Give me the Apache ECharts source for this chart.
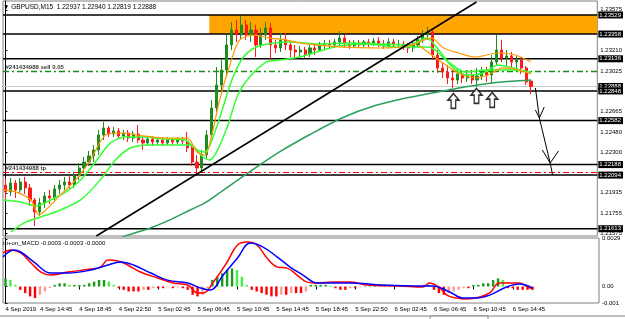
<!DOCTYPE html>
<html><head><meta charset="utf-8">
<script src="https://cdn.jsdelivr.net/npm/echarts@6/dist/echarts.min.js"></script>
<style>html,body{margin:0;padding:0;background:#fff}#c{width:625px;height:319px}</style>
</head><body><div id="c"></div><script>
// ---- data (30-min candles) : [open, close, low, high]
const candles = [
[1.22005,1.21943,1.21871,1.22068],[1.21943,1.22023,1.21907,1.22068],[1.22023,1.21961,1.21889,1.22050],
[1.21961,1.22032,1.21934,1.22068],[1.22032,1.21979,1.21925,1.22077],[1.21979,1.21871,1.21817,1.22014],
[1.21871,1.21763,1.21638,1.21889],[1.21763,1.21844,1.21728,1.21889],[1.21844,1.21907,1.21799,1.21943],
[1.21907,1.21889,1.21835,1.21961],[1.21889,1.21970,1.21862,1.22005],[1.21970,1.22005,1.21925,1.22050],
[1.22005,1.22032,1.21961,1.22077],[1.22032,1.22005,1.21970,1.22086],[1.22005,1.22086,1.21979,1.22122],
[1.22086,1.22158,1.22050,1.22202],[1.22158,1.22211,1.22122,1.22256],[1.22211,1.22265,1.22175,1.22310],
[1.22265,1.22319,1.22211,1.22364],[1.22319,1.22453,1.22274,1.22498],[1.22453,1.22516,1.22408,1.22570],
[1.22516,1.22462,1.22435,1.22534],[1.22462,1.22489,1.22435,1.22525],[1.22489,1.22444,1.22417,1.22516],
[1.22444,1.22471,1.22408,1.22498],[1.22471,1.22426,1.22390,1.22498],[1.22426,1.22462,1.22390,1.22489],
[1.22462,1.22408,1.22382,1.22543],[1.22408,1.22382,1.22319,1.22444],[1.22382,1.22417,1.22355,1.22444],
[1.22417,1.22390,1.22355,1.22444],[1.22390,1.22408,1.22364,1.22435],[1.22408,1.22382,1.22355,1.22435],
[1.22382,1.22408,1.22364,1.22435],[1.22408,1.22390,1.22364,1.22426],[1.22390,1.22408,1.22373,1.22435],
[1.22408,1.22399,1.22373,1.22435],[1.22399,1.22337,1.22301,1.22480],[1.22337,1.22211,1.22175,1.22355],
[1.22211,1.22158,1.22104,1.22274],[1.22158,1.22274,1.22122,1.22319],[1.22274,1.22453,1.22247,1.22498],
[1.22453,1.22695,1.22426,1.22767],[1.22695,1.22901,1.22660,1.23063],[1.22901,1.23036,1.22857,1.23125],
[1.23036,1.23260,1.22982,1.23349],[1.23260,1.23394,1.23215,1.23466],[1.23394,1.23349,1.23287,1.23484],
[1.23349,1.23439,1.23305,1.23520],[1.23439,1.23349,1.23305,1.23484],[1.23349,1.23394,1.23287,1.23466],
[1.23394,1.23260,1.23152,1.23439],[1.23260,1.23349,1.23233,1.23412],[1.23349,1.23412,1.23305,1.23466],
[1.23412,1.23260,1.23125,1.23457],[1.23260,1.23233,1.23188,1.23305],[1.23233,1.23305,1.23197,1.23367],
[1.23305,1.23260,1.23215,1.23367],[1.23260,1.23215,1.23152,1.23287],[1.23215,1.23197,1.23152,1.23260],
[1.23197,1.23215,1.23152,1.23251],[1.23215,1.23179,1.23143,1.23242],[1.23179,1.23233,1.23152,1.23260],
[1.23233,1.23215,1.23170,1.23269],[1.23215,1.23260,1.23197,1.23287],[1.23260,1.23269,1.23224,1.23305],
[1.23269,1.23260,1.23224,1.23305],[1.23260,1.23287,1.23233,1.23314],[1.23287,1.23322,1.23251,1.23385],
[1.23322,1.23269,1.23233,1.23349],[1.23269,1.23251,1.23224,1.23305],[1.23251,1.23278,1.23233,1.23305],
[1.23278,1.23260,1.23233,1.23305],[1.23260,1.23287,1.23242,1.23305],[1.23287,1.23269,1.23242,1.23314],
[1.23269,1.23296,1.23251,1.23322],[1.23296,1.23269,1.23242,1.23331],[1.23269,1.23251,1.23224,1.23305],
[1.23251,1.23287,1.23233,1.23322],[1.23287,1.23260,1.23233,1.23314],[1.23260,1.23269,1.23233,1.23305],
[1.23269,1.23242,1.23215,1.23296],[1.23242,1.23233,1.23188,1.23278],[1.23233,1.23260,1.23197,1.23287],
[1.23260,1.23305,1.23233,1.23340],[1.23305,1.23349,1.23278,1.23394],[1.23349,1.23376,1.23305,1.23421],
[1.23376,1.23170,1.23125,1.23403],[1.23170,1.23054,1.23009,1.23215],[1.23054,1.23018,1.22964,1.23107],
[1.23018,1.22964,1.22910,1.23081],[1.22964,1.22946,1.22874,1.23036],[1.22946,1.23000,1.22910,1.23054],
[1.23000,1.22964,1.22919,1.23036],[1.22964,1.22991,1.22928,1.23036],[1.22991,1.22946,1.22910,1.23036],
[1.22946,1.22982,1.22883,1.23054],[1.22982,1.23018,1.22946,1.23063],[1.23018,1.22991,1.22928,1.23063],
[1.22991,1.23107,1.22910,1.23170],[1.23107,1.23215,1.23072,1.23349],[1.23215,1.23143,1.23107,1.23305],
[1.23143,1.23161,1.23072,1.23215],[1.23161,1.23107,1.23054,1.23197],[1.23107,1.23125,1.23036,1.23170],
[1.23125,1.23054,1.23000,1.23152],[1.23054,1.22928,1.22901,1.23072],[1.22937,1.22888,1.22819,1.22940]
];
const slotCount = 121;
const timeLabels = ['4 Sep 2019','4 Sep 14:45','4 Sep 18:45','4 Sep 22:50','5 Sep 02:45','5 Sep 06:45','5 Sep 10:45',
  '5 Sep 14:45','5 Sep 18:45','5 Sep 22:50','6 Sep 02:45','6 Sep 06:45','6 Sep 10:45','6 Sep 14:45'];
const timeLabelIdx = [0,7,15,23,31,39,47,55,63,71,79,87,95,103];
const priceTicks = [1.21575,1.21755,1.21935,1.22300,1.22480,1.22665,1.23025,1.23210,1.23575];
const levelLines = [1.23529,1.23358,1.23136,1.22848,1.22582,1.22188,1.22094,1.21613];
const bidPrice = 1.22888;
const sellPrice = 1.23022, tpPrice = 1.22117;
const sellText = '#241434988 sell 0.05', tpText = '#241434988 tp';
const zoneTop = 1.23529, zoneBottom = 1.23358, zoneStart = 41.5;
const ma200 = [[22.8,1.21522],[24.4,1.21548],[29.5,1.21620],[33.5,1.21692],[37.6,1.21781],[40.6,1.21844],[43.6,1.21934],
 [49.7,1.22122],[55.8,1.22301],[61.8,1.22453],[68.5,1.22606],[75.0,1.22713],[82.7,1.22794],[90.2,1.22857],[98.9,1.22919],[107,1.22946]];
const maFast = [[-0.5,1.21871],[3.1,1.21853],[6.2,1.21817],[9.2,1.21871],[12.3,1.21943],[15.3,1.22050],[18.3,1.22211],[21.4,1.22382],
 [24.4,1.22435],[28.4,1.22435],[32.5,1.22417],[36.5,1.22408],[39.0,1.22319],[40.6,1.22301],[42.2,1.22426],[44.0,1.22660],
 [46.1,1.22946],[48.3,1.23143],[50.7,1.23233],[53.3,1.23269],[57.8,1.23287],[63.9,1.23269],[69.9,1.23278],[76.0,1.23269],
 [82.1,1.23260],[85.7,1.23322],[88.2,1.23215],[91.2,1.23054],[94.2,1.22991],[97.3,1.23009],[100.3,1.23081],[103.3,1.23054],[107,1.23009]];
const maSlow = [[1.1,1.21584],[4.2,1.21674],[7.2,1.21719],[11.2,1.21781],[15.3,1.21871],[19.3,1.22050],[22.4,1.22229],[25.4,1.22337],
 [29.5,1.22364],[33.5,1.22364],[37.6,1.22364],[40.2,1.22256],[41.6,1.22229],[43.2,1.22319],[45.3,1.22543],[47.3,1.22812],
 [49.7,1.22973],[53.1,1.23107],[55.8,1.23125],[59.8,1.23152],[63.3,1.23197],[67.9,1.23251],[73.4,1.23269],[80.1,1.23242],
 [86.1,1.23242],[90.2,1.23107],[93.6,1.23018],[98.3,1.23036],[102.9,1.23036],[107,1.23018]];
const maOrange = [[-0.5,1.21961],[2.1,1.21943],[5.2,1.21871],[6.8,1.21737],[8.2,1.21781],[11.2,1.21916],[14.3,1.22050],[17.3,1.22229],
 [20.4,1.22453],[23.4,1.22471],[26.8,1.22453],[32.5,1.22426],[37.0,1.22426],[39.0,1.22301],[40.6,1.22274],[42.0,1.22453],
 [43.6,1.22767],[45.7,1.23081],[47.7,1.23305],[50.7,1.23349],[53.8,1.23322],[57.2,1.23305],[59.8,1.23278],[67.9,1.23242],
 [76.6,1.23233],[82.1,1.23251],[86.7,1.23322],[89.2,1.23233],[92.2,1.23188],[95.7,1.23152],[100.3,1.23188],[103.8,1.23170],[107,1.23107]];
const maOrange2 = [[84.1,1.23260],[88.2,1.23125],[92.2,1.23009],[95.7,1.22964],[98.3,1.22991],[101.3,1.23054],[104.4,1.23036],[107,1.23000]];
const trendLine = [[18.5,1.21548],[95.9,1.23645]];
const drawnPath = [[107.9,1.22874],[108.7,1.22606],[110.9,1.22202],[111.4,1.22095]];
const drawnHead1 = [[107.9,1.22677],[108.7,1.22606],[109.7,1.22704]];
const drawnHead2 = [[109.3,1.22319],[110.9,1.22202],[112.6,1.22310]];
const upArrows = [[91.2,1.22758],[95.9,1.22803],[99.1,1.22767]];
const macdRed = [[-0.5,0.00204],[1.1,0.00222],[3.1,0.00204],[5.2,0.00143],[7.2,0.00088],[9.2,0.00070],[12.7,0.00088],[17.3,0.00106],
 [19.3,0.00118],[20.8,0.00161],[22.8,0.00155],[24.8,0.00131],[27.4,0.00088],[30.9,0.00052],[34.1,0.00021],[37.0,0.00009],
 [39.0,-0.00039],[40.2,-0.00039],[42.2,0.00027],[45.0,0.00149],[47.1,0.00252],[49.1,0.00270],[51.1,0.00252],[53.1,0.00173],
 [55.2,0.00118],[57.2,0.00112],[59.2,0.00070],[61.2,0.00027],[63.3,0.00021],[66.5,0.00027],[69.9,0.00027],[73.4,0.00009],
 [80.1,0.00003],[84.7,-0.00003],[86.1,0.00021],[88.2,-0.00009],[89.6,-0.00052],[91.6,-0.00070],[93.6,-0.00076],[96.3,-0.00064],
 [98.3,-0.00039],[100.3,0.00021],[102.9,0.00021],[104.4,0.00021],[105.8,0.00002],[107,-0.00015]];
const macdBlue = [[-0.5,0.00179],[1.7,0.00222],[3.1,0.00210],[5.8,0.00149],[9.2,0.00082],[12.7,0.00082],[17.3,0.00100],[20.8,0.00131],
 [23.4,0.00149],[26.0,0.00131],[29.5,0.00082],[32.9,0.00039],[37.0,0.00021],[39.6,-0.00009],[41.6,-0.00021],[44.2,0.00070],
 [47.1,0.00173],[49.7,0.00264],[52.3,0.00240],[55.2,0.00179],[57.8,0.00118],[60.4,0.00070],[63.3,0.00021],[69.9,0.00021],
 [76.6,0.00009],[84.7,0.00003],[86.7,0.00003],[90.2,-0.00033],[92.8,-0.00070],[95.7,-0.00070],[98.3,-0.00052],[101.7,-0.00003],
 [104.4,0.00015],[107,-0.0001]];
const macdHist = [0.0005,0.0004,0.0001,-0.0002,-0.0004,-0.0006,-0.0007,-0.0005,-0.0003,-0.0001,
 0.0001,0.0002,0.0002,0.0001,0.0001,0.0001,0.0001,0.0002,0.0003,0.0004,
 0.0004,0.0003,0.0001,-0.0001,-0.0002,-0.0003,-0.0003,-0.0003,-0.0002,-0.0002,
 -0.0001,-0.0001,-0.0001,-0.00005,-0.0001,-0.00005,-0.0001,-0.0002,-0.0005,-0.0006,
 -0.0005,-0.0001,0.0004,0.0006,0.0008,0.0010,0.0011,0.0010,0.0006,0.0001,
 -0.0002,-0.0003,-0.0004,-0.0005,-0.0006,-0.0006,-0.0005,-0.0005,-0.0004,-0.0004,
 -0.0004,-0.0003,0.0001,0.0001,0.0001,0.0001,0.00005,-0.0001,-0.0002,-0.0002,
 -0.0001,-0.0001,-0.00005,0.00003,0.00003,-0.00003,0.00003,0.00003,0.00003,-0.00003,
 0.00003,0.00003,0.00003,0.00003,0.00003,0.0001,0.0001,-0.0002,-0.0004,-0.0005,
 -0.0004,-0.0003,-0.0002,-0.0001,-0.0001,0.0001,0.0001,0.0002,0.0002,0.0004,
 0.0005,0.0004,-0.0001,-0.0001,-0.0002,-0.0002,-0.0002,-0.0002];
const macdTicks = [0.0029, 0, -0.001];
const macdTickText = ['0.0029', '0.00', '-0.001'];
const macdTitle = 'tp+on_MACD -0.0003 -0.0003 -0.0000';
const symbolName = 'GBPUSD,M15';

// ---- chart
const FONT = 'Liberation Sans, DejaVu Sans, sans-serif';
const cats = Array.from({length: slotCount}, (_, i) => String(i));
const last = candles[candles.length - 1];
const xEnd = slotCount - 0.5;
const chart = echarts.init(document.getElementById('c'), null, {renderer: 'canvas'});
const boxLabel = (v) => ({show: true, formatter: v.toFixed(5), backgroundColor: '#000', color: '#fff', distance: 1,
  fontSize: 6, fontFamily: FONT, padding: [1, 2, 0, 1]});
const hLine = (v, color, width, type, z, withBox) => ({type: 'line', xAxisIndex: 1, yAxisIndex: 0,
  data: [[-0.5, v], [xEnd, v]], symbol: 'none', lineStyle: {color, width, type}, z, silent: true, clip: false,
  endLabel: withBox ? boxLabel(v) : {show: false}});
const tag = (v, text) => ({type: 'scatter', xAxisIndex: 1, yAxisIndex: 0, data: [[0.0, v]], symbolSize: 0, z: 6, silent: true,
  label: {show: true, position: 'top', align: 'left', distance: 1, formatter: text, color: '#000', fontSize: 6,
    fontWeight: 'bold', fontFamily: FONT}});
const line = (data, color, width, z) => ({type: 'line', xAxisIndex: 1, yAxisIndex: 0, data, symbol: 'none', smooth: 0.3,
  lineStyle: {color, width}, z, silent: true, clip: true});
const histColor = (p) => {
  const v = macdHist[p.dataIndex], pv = p.dataIndex > 0 ? macdHist[p.dataIndex - 1] : v;
  if (v >= 0) return v >= pv ? '#1c9a1c' : '#44ee44';
  return v <= pv ? '#ff0000' : '#ff9a9a';
};
chart.setOption({
  animation: false,
  backgroundColor: '#fff',
  grid: [
    {left: 3, top: 1, width: 596, height: 235, show: true, borderColor: '#808080', borderWidth: 1},
    {left: 3, top: 238, width: 596, height: 65, show: true, borderColor: '#808080', borderWidth: 1}
  ],
  xAxis: [
    {type: 'category', gridIndex: 0, data: cats, boundaryGap: true, show: false},
    {type: 'value', gridIndex: 0, min: -0.5, max: xEnd, show: false},
    {type: 'category', gridIndex: 1, data: cats, boundaryGap: true, position: 'bottom',
      axisLine: {show: false},
      axisTick: {show: true, alignWithLabel: true, length: 3, interval: (i) => timeLabelIdx.includes(i), lineStyle: {color: '#000'}},
      axisLabel: {interval: (i) => timeLabelIdx.includes(i), formatter: (v) => timeLabels[timeLabelIdx.indexOf(Number(v))] || '',
        align: 'left', margin: 3, fontSize: 6, color: '#000', fontFamily: FONT}},
    {type: 'value', gridIndex: 1, min: -0.5, max: xEnd, show: false}
  ],
  yAxis: [
    {type: 'value', gridIndex: 0, position: 'right', min: 1.21548, max: 1.23654, splitLine: {show: false},
      axisLine: {show: true, lineStyle: {color: '#000'}},
      axisTick: {show: true, length: 2, customValues: priceTicks, lineStyle: {color: '#000'}},
      axisLabel: {customValues: priceTicks, formatter: (v) => v.toFixed(5), fontSize: 6, color: '#000', margin: 3, fontFamily: FONT}},
    {type: 'value', gridIndex: 1, position: 'right', min: -0.001, max: 0.00295, splitLine: {show: false},
      axisLine: {show: true, lineStyle: {color: '#000'}},
      axisTick: {show: true, length: 2, customValues: macdTicks, lineStyle: {color: '#000'}},
      axisLabel: {customValues: macdTicks, formatter: (v) => macdTickText[macdTicks.findIndex(t => Math.abs(t - v) < 1e-9)] || '',
        fontSize: 6, color: '#000', margin: 3, fontFamily: FONT}}
  ],
  graphic: [
    {type: 'text', left: 3, top: 4, z: 10, style: {text: '\u25BC ' + symbolName + '  ' + [last[0], last[3], last[2], last[1]].map(v => v.toFixed(5)).join(' '),
      font: '6.5px ' + FONT, fill: '#000'}},
    {type: 'text', left: 3, top: 240, z: 10, style: {text: macdTitle, font: '6px ' + FONT, fill: '#000'}},
    {type: 'line', shape: {x1: 0, y1: 316, x2: 625, y2: 316}, style: {stroke: '#808080', lineWidth: 1}},
    {type: 'rect', shape: {x: 430, y: 316, width: 58, height: 4}, style: {fill: '#fff', stroke: '#808080', lineWidth: 1}}
  ],
  series: [
    {type: 'line', xAxisIndex: 1, yAxisIndex: 0, data: [[zoneStart, zoneTop], [xEnd, zoneTop]], symbol: 'none',
      lineStyle: {opacity: 0}, z: 1, silent: true,
      markArea: {silent: true, itemStyle: {color: '#FFA500', opacity: 1},
        data: [[{xAxis: zoneStart, yAxis: zoneTop}, {xAxis: xEnd, yAxis: zoneBottom}]]}},
    hLine(bidPrice, '#c8c8c8', 1, 'solid', 2, true),
    ...levelLines.map(v => hLine(v, '#000', 1.5, 'solid', 2, true)),
    hLine(sellPrice, '#1a8c1a', 1.5, [6, 3, 2, 3], 2, false),
    hLine(tpPrice, '#ff0000', 1.2, [6, 3, 2, 3], 2, false),
    tag(sellPrice, sellText),
    tag(tpPrice, tpText),
    {type: 'candlestick', xAxisIndex: 0, yAxisIndex: 0, data: candles, barWidth: 2.6, z: 3, silent: true,
      itemStyle: {color: '#1e8c1e', color0: '#ff1a1a', borderColor: '#1e8c1e', borderColor0: '#ff1a1a', borderWidth: 1}},
    line(ma200, '#2aa05a', 1.5, 4),
    line(maSlow, '#33ff33', 1.5, 4),
    line(maFast, '#33ff33', 1.5, 4),
    line(maOrange, '#ff9900', 1.2, 4),
    line(maOrange2, '#ff9900', 1.2, 4),
    {type: 'line', xAxisIndex: 1, yAxisIndex: 0, data: trendLine, symbol: 'none', lineStyle: {color: '#000', width: 1.5}, z: 5, silent: true},
    {type: 'line', xAxisIndex: 1, yAxisIndex: 0, data: drawnPath, symbol: 'none', lineStyle: {color: '#000', width: 1}, z: 5, silent: true, clip: false},
    {type: 'line', xAxisIndex: 1, yAxisIndex: 0, data: drawnHead1, symbol: 'none', lineStyle: {color: '#000', width: 1}, z: 5, silent: true, clip: false},
    {type: 'line', xAxisIndex: 1, yAxisIndex: 0, data: drawnHead2, symbol: 'none', lineStyle: {color: '#000', width: 1}, z: 5, silent: true, clip: false},
    {type: 'scatter', xAxisIndex: 1, yAxisIndex: 0, data: upArrows, z: 6, silent: true,
      symbol: 'path://M6,0 L12,7 L8.5,7 L8.5,16 L3.5,16 L3.5,7 L0,7 Z', symbolSize: [11, 15],
      itemStyle: {color: '#fff', borderColor: '#000', borderWidth: 1.5}},
    {type: 'bar', xAxisIndex: 2, yAxisIndex: 1, data: macdHist, barWidth: 2.4, z: 2, silent: true,
      itemStyle: {color: histColor}},
    {type: 'line', xAxisIndex: 3, yAxisIndex: 1, data: macdRed, symbol: 'none', smooth: 0.4, lineStyle: {color: '#ff0000', width: 1.5}, z: 4, silent: true},
    {type: 'line', xAxisIndex: 3, yAxisIndex: 1, data: macdBlue, symbol: 'none', smooth: 0.4, lineStyle: {color: '#0000ff', width: 1.5}, z: 4, silent: true}
  ]
});
</script></body></html>
